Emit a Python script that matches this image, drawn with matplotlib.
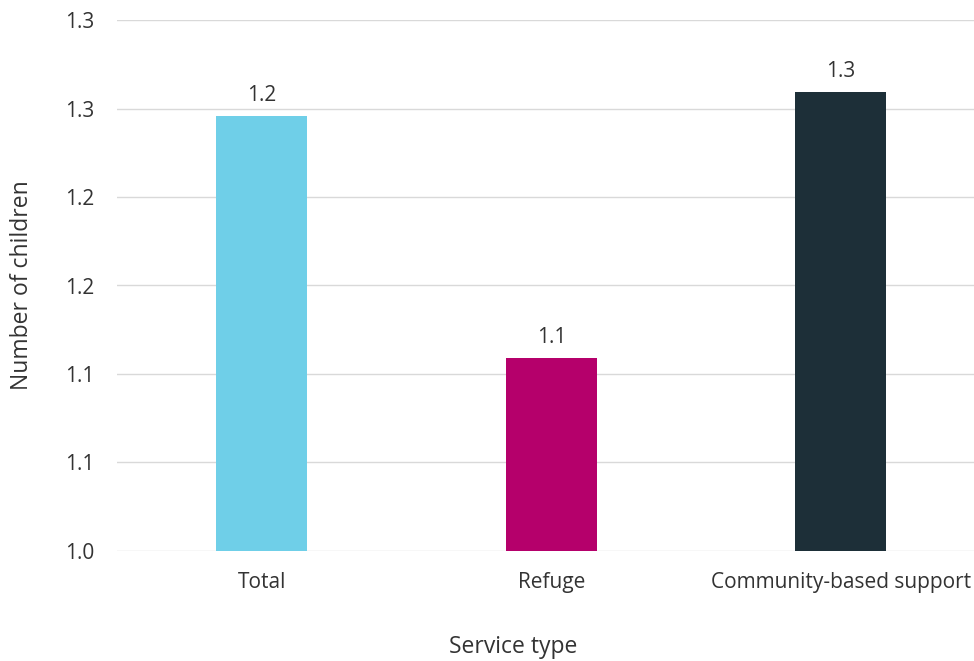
import matplotlib
matplotlib.use("Agg")
import matplotlib.pyplot as plt
from matplotlib.ticker import FuncFormatter
import numpy as np

plt.rcParams['font.family'] = ['Open Sans', 'DejaVu Sans']

categories = ['Total', 'Refuge', 'Community-based support']
values = [1.246, 1.109, 1.2595]
value_labels = ['1.2', '1.1', '1.3']
colors = ['#6fcfe8', '#b5006b', '#1d2f38']

fig = plt.figure(figsize=(9.74, 6.61), dpi=100)
ax = fig.add_axes([117 / 974, 110 / 661, (974 - 117) / 974, (551 - 20) / 661])

x = np.arange(len(categories))
bars = ax.bar(x, values, width=0.315, color=colors, zorder=3)

for b, lab in zip(bars, value_labels):
    ax.annotate(lab, (b.get_x() + b.get_width() / 2, b.get_height()),
                xytext=(0, 7), textcoords='offset points',
                ha='center', va='bottom', fontsize=15, color='#333333')

ax.set_xlim(-0.5, 2.46)
ax.set_ylim(1.0, 1.3)
ax.set_yticks(np.arange(1.0, 1.301, 0.05))
ax.yaxis.set_major_formatter(FuncFormatter(lambda v, p: f'{v:.1f}'))
ax.set_xticks(x)
ax.set_xticklabels(categories)

ax.grid(axis='y', color='#d9d9d9', linewidth=1, zorder=0)
for s in ax.spines.values():
    s.set_visible(False)
ax.tick_params(axis='both', length=0, labelsize=15, labelcolor='#333333')
ax.tick_params(axis='y', pad=16)
ax.tick_params(axis='x', pad=15)

ax.set_xlabel('Service type', fontsize=16.5, color='#333333')
ax.xaxis.set_label_coords(0.462, -0.158)
ax.set_ylabel('Number of children', fontsize=16.5, color='#333333')
ax.yaxis.set_label_coords(-0.097, 0.5)

fig.savefig('out.png', dpi=100)
